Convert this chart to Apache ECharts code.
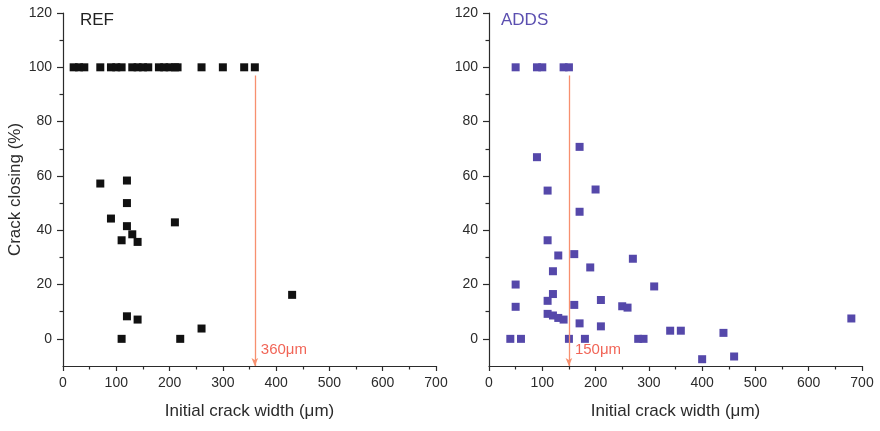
<!DOCTYPE html>
<html>
<head>
<meta charset="utf-8">
<script src="https://cdn.jsdelivr.net/npm/echarts@6/dist/echarts.min.js"></script>
<style>html,body{margin:0;padding:0;background:#fff;}#c{width:880px;height:431px;}</style>
</head>
<body>
<div id="c"></div>
<script>
// ---- data ----
const refX = [20, 30, 40, 70, 90, 100, 110, 130, 140, 150, 160, 180, 190, 200, 210, 215, 260, 300, 340, 360,
  70, 120, 120, 90, 120, 130, 110, 140, 210, 430, 120, 140, 110, 220, 260];
const refY = [100, 100, 100, 100, 100, 100, 100, 100, 100, 100, 100, 100, 100, 100, 100, 100, 100, 100, 100, 100,
  57.2, 58.3, 50, 44.3, 41.5, 38.5, 36.3, 35.7, 42.9, 16.2, 8.3, 7.1, 0, 0, 3.8];
const addsX = [50, 90, 100, 140, 150,
  90, 170, 110, 200, 170, 110, 130, 160, 190, 270, 120, 50, 310, 120, 110, 160, 210, 50, 250, 260,
  110, 120, 130, 140, 170, 210, 340, 360, 440, 40, 60, 150, 180, 280, 290, 400, 460, 680];
const addsY = [100, 100, 100, 100, 100,
  66.9, 70.7, 54.6, 55, 46.8, 36.3, 30.7, 31.2, 26.3, 29.5, 24.9, 20, 19.3, 16.5, 14, 12.5, 14.3, 11.8, 12, 11.5,
  9.2, 8.6, 7.7, 7.1, 5.7, 4.6, 3, 3, 2.2, 0, 0, 0, 0, 0, 0, -7.5, -6.5, 7.5];
const refThreshold = 360;
const addsThreshold = 150;
const panelTitles = ['REF', 'ADDS'];
const xTicks = [0, 100, 200, 300, 400, 500, 600, 700];
const yMajorTicks = [0, 20, 40, 60, 80, 100, 120];
const yMinorTicks = [10, 30, 50, 70, 90, 110];
const xName = 'Initial crack width (\u03bcm)';
const yName = 'Crack closing (%)';

// ---- styling ----
const FONT = 'Liberation Sans, Arial, sans-serif';
const axisColor = '#2b2b2b';
const lineTop = 97, labelY = -4;
const pair = (xs, ys) => xs.map((x, i) => [x, ys[i]]);

function xAxis(gi) {
  return {
    gridIndex: gi, type: 'value', min: xTicks[0], max: xTicks[xTicks.length - 1], interval: 100,
    name: xName, nameLocation: 'middle', nameGap: 37,
    nameTextStyle: { fontFamily: FONT, fontSize: 17, color: '#2b2b2b' },
    axisLine: { onZero: false, lineStyle: { color: axisColor, width: 1.2 } },
    axisTick: { show: true, inside: false, length: 5, lineStyle: { color: axisColor, width: 1.2 } },
    minorTick: { show: true, splitNumber: 2, length: 3.5, lineStyle: { color: axisColor, width: 1.2 } },
    axisLabel: { margin: 10, fontFamily: FONT, fontSize: 14, color: '#2b2b2b' },
    splitLine: { show: false }, minorSplitLine: { show: false }
  };
}
function yAxisMajor(gi, withName) {
  return {
    gridIndex: gi, type: 'value', position: 'left', min: -10, max: 120, interval: 10,
    name: withName ? yName : '', nameLocation: 'middle', nameGap: 39,
    nameTextStyle: { fontFamily: FONT, fontSize: 17, color: '#2b2b2b' },
    axisLine: { show: true, onZero: false, lineStyle: { color: axisColor, width: 1.2 } },
    axisTick: { show: true, length: 6, customValues: yMajorTicks, lineStyle: { color: axisColor, width: 1.2 } },
    axisLabel: { margin: 11, customValues: yMajorTicks, fontFamily: FONT, fontSize: 14, color: '#2b2b2b' },
    splitLine: { show: false }
  };
}
function yAxisMinor(gi) {
  return {
    gridIndex: gi, type: 'value', position: 'left', offset: 0, min: -10, max: 120, interval: 10,
    axisLine: { show: false },
    axisTick: { show: true, length: 3.5, customValues: yMinorTicks, lineStyle: { color: axisColor, width: 1.2 } },
    axisLabel: { show: false },
    splitLine: { show: false }
  };
}
function thresholdLine(v) {
  return {
    silent: true, animation: false,
    symbol: ['none', 'arrow'], symbolSize: [5, 8],
    lineStyle: { type: 'solid', color: '#f7906f', width: 1.3, opacity: 1 },
    itemStyle: { color: '#ee4a33' },
    label: { show: false },
    emphasis: { disabled: true },
    data: [[{ coord: [v, lineTop] }, { coord: [v, -10] }]]
  };
}
function thresholdLabel(xi, yi, v) {
  return {
    type: 'scatter', xAxisIndex: xi, yAxisIndex: yi, symbolSize: 0, silent: true,
    data: [[v, labelY]],
    label: { show: true, position: 'right', distance: 6, formatter: v + '\u03bcm',
      fontFamily: FONT, fontSize: 15, color: '#ee3d2c' }
  };
}

const chart = echarts.init(document.getElementById('c'), null, { renderer: 'canvas' });
chart.setOption({
  animation: false,
  backgroundColor: '#fff',
  title: [
    { text: panelTitles[0], left: 80, top: 12, padding: 0, textStyle: { fontFamily: FONT, fontSize: 17, fontWeight: 'normal', color: '#222' } },
    { text: panelTitles[1], left: 501, top: 12, padding: 0, textStyle: { fontFamily: FONT, fontSize: 17, fontWeight: 'normal', color: '#5b4fb0' } }
  ],
  grid: [
    { left: 63, top: 13, width: 373, height: 353 },
    { left: 489, top: 13, width: 373, height: 353 }
  ],
  xAxis: [xAxis(0), xAxis(1)],
  yAxis: [yAxisMajor(0, true), yAxisMinor(0), yAxisMajor(1, false), yAxisMinor(1)],
  series: [
    { type: 'scatter', xAxisIndex: 0, yAxisIndex: 0, symbol: 'rect', symbolSize: 8,
      itemStyle: { color: '#111', opacity: 1 }, data: pair(refX, refY), markLine: thresholdLine(refThreshold) },
    { type: 'scatter', xAxisIndex: 1, yAxisIndex: 2, symbol: 'rect', symbolSize: 8,
      itemStyle: { color: '#5548aa', opacity: 1 }, data: pair(addsX, addsY), markLine: thresholdLine(addsThreshold) },
    thresholdLabel(0, 0, refThreshold),
    thresholdLabel(1, 2, addsThreshold)
  ]
});
</script>
</body>
</html>
